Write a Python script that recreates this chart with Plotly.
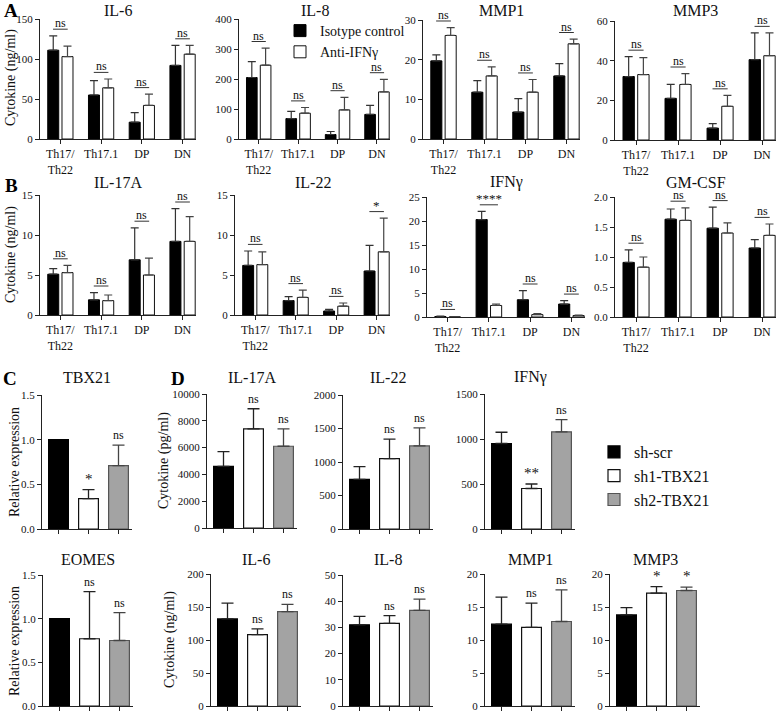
import plotly.graph_objects as go

W, H = 778, 714

# ---------------- data ----------------
groups = ["Th17/Th22", "Th17.1", "DP", "DN"]
group_labels = ["Th17/<br>Th22", "Th17.1", "DP", "DN"]
shrna = ["sh-scr", "sh1-TBX21", "sh2-TBX21"]

# Panel A (ng/ml): Isotype control vs Anti-IFNγ
a_il6_iso = [111, 55, 21, 92]
a_il6_iso_err = [18, 18, 12, 25]
a_il6_anti = [103, 64, 42, 106]
a_il6_anti_err = [13, 11, 14, 11]
a_il6_sig = ["ns", "ns", "ns", "ns"]

a_il8_iso = [205, 68, 15, 82]
a_il8_iso_err = [53, 24, 10, 30]
a_il8_anti = [246, 86, 97, 157]
a_il8_anti_err = [57, 19, 42, 42]
a_il8_sig = ["ns", "ns", "ns", "ns"]

a_mmp1_iso = [19.7, 11.8, 6.8, 15.9]
a_mmp1_iso_err = [1.5, 2.9, 3.4, 3.1]
a_mmp1_anti = [26.1, 15.9, 11.8, 24.0]
a_mmp1_anti_err = [2.0, 2.3, 3.2, 1.2]
a_mmp1_sig = ["ns", "ns", "ns", "ns"]

a_mmp3_iso = [32, 21, 6, 40.5]
a_mmp3_iso_err = [10, 7, 2.3, 13.5]
a_mmp3_anti = [33, 28, 17, 42.5]
a_mmp3_anti_err = [8.5, 5.5, 5.5, 11.5]
a_mmp3_sig = ["ns", "ns", "ns", "ns"]

# Panel B (ng/ml)
b_il17a_iso = [5.1, 1.9, 6.9, 9.2]
b_il17a_iso_err = [0.7, 0.9, 4.0, 4.1]
b_il17a_anti = [5.3, 1.8, 5.0, 9.2]
b_il17a_anti_err = [0.9, 0.7, 2.1, 3.1]
b_il17a_sig = ["ns", "ns", "ns", "ns"]

b_il22_iso = [6.2, 1.8, 0.5, 5.5]
b_il22_iso_err = [1.8, 0.5, 0.2, 3.2]
b_il22_anti = [6.3, 2.2, 1.1, 7.9]
b_il22_anti_err = [1.6, 0.9, 0.4, 4.2]
b_il22_sig = ["ns", "ns", "ns", "*"]

b_ifng_iso = [0.1, 20.3, 3.6, 2.7]
b_ifng_iso_err = [0.1, 1.7, 1.9, 0.7]
b_ifng_anti = [0.02, 2.4, 0.5, 0.3]
b_ifng_anti_err = [0.03, 0.3, 0.2, 0.1]
b_ifng_sig = ["ns", "****", "ns", "ns"]

b_gmcsf_iso = [0.91, 1.63, 1.48, 1.15]
b_gmcsf_iso_err = [0.21, 0.17, 0.35, 0.14]
b_gmcsf_anti = [0.83, 1.61, 1.40, 1.36]
b_gmcsf_anti_err = [0.17, 0.21, 0.17, 0.19]
b_gmcsf_sig = ["ns", "ns", "ns", "ns"]

# Panel C (relative expression)
c_tbx21 = [1.0, 0.34, 0.71]
c_tbx21_err = [0, 0.10, 0.23]
c_tbx21_sig = ["", "*", "ns"]
c_eomes = [1.0, 0.77, 0.75]
c_eomes_err = [0, 0.54, 0.32]
c_eomes_sig = ["", "ns", "ns"]

# Panel D
d_il17a = [4600, 7400, 6100]
d_il17a_err = [1100, 1500, 1300]
d_il17a_sig = ["", "ns", "ns"]
d_il22 = [740, 1050, 1240]
d_il22_err = [190, 290, 270]
d_il22_sig = ["", "ns", "ns"]
d_ifng = [950, 450, 1080]
d_ifng_err = [125, 50, 135]
d_ifng_sig = ["", "**", "ns"]
d_il6 = [132, 108, 143]
d_il6_err = [24, 9, 11]
d_il6_sig = ["", "ns", "ns"]
d_il8 = [31, 31.5, 36.5]
d_il8_err = [3.2, 3.0, 4.3]
d_il8_sig = ["", "ns", "ns"]
d_mmp1 = [12.4, 11.9, 12.8]
d_mmp1_err = [4.1, 3.7, 4.8]
d_mmp1_sig = ["", "ns", "ns"]
d_mmp3 = [13.8, 17.1, 17.5]
d_mmp3_err = [1.1, 1.0, 0.5]
d_mmp3_sig = ["", "*", "*"]

# ---------------- styling / layout ----------------
FONT = "Times New Roman, Liberation Serif, DejaVu Serif, serif"
AX = "#222222"


def px_x(x):
    return x / W


def px_y(y):
    return 1 - y / H


fig = go.Figure()
layout = dict(
    width=W, height=H, margin=dict(l=0, r=0, t=0, b=0, pad=0, autoexpand=False),
    paper_bgcolor="white", plot_bgcolor="white",
    barmode="overlay", font=dict(family=FONT, color="#111"),
    showlegend=True,
)
annotations = []
shapes = []

ab_panels = [
    ("IL-6", a_il6_iso, a_il6_iso_err, a_il6_anti, a_il6_anti_err, a_il6_sig, 150, 50, (40, 196, 19, 139), None),
    ("IL-8", a_il8_iso, a_il8_iso_err, a_il8_anti, a_il8_anti_err, a_il8_sig, 400, 100, (239, 390, 19, 139), None),
    ("MMP1", a_mmp1_iso, a_mmp1_iso_err, a_mmp1_anti, a_mmp1_anti_err, a_mmp1_sig, 30, 10, (423, 580, 20, 139), None),
    ("MMP3", a_mmp3_iso, a_mmp3_iso_err, a_mmp3_anti, a_mmp3_anti_err, a_mmp3_sig, 60, 20, (615, 776, 21, 140), None),
    ("IL-17A", b_il17a_iso, b_il17a_iso_err, b_il17a_anti, b_il17a_anti_err, b_il17a_sig, 15, 5, (40, 196, 195, 315), None),
    ("IL-22", b_il22_iso, b_il22_iso_err, b_il22_anti, b_il22_anti_err, b_il22_sig, 15, 5, (235, 390, 195, 315), None),
    ("IFNγ", b_ifng_iso, b_ifng_iso_err, b_ifng_anti, b_ifng_anti_err, b_ifng_sig, 25, 5, (427, 585, 197, 317), None),
    ("GM-CSF", b_gmcsf_iso, b_gmcsf_iso_err, b_gmcsf_anti, b_gmcsf_anti_err, b_gmcsf_sig, 2.0, 0.5, (615, 776, 197, 317), ".1f"),
]

cd_panels = [
    ("TBX21", c_tbx21, c_tbx21_err, c_tbx21_sig, 1.5, 0.5, (42, 132, 395, 529), ".1f"),
    ("IL-17A", d_il17a, d_il17a_err, d_il17a_sig, 10000, 2000, (207, 297, 394, 528), "d"),
    ("IL-22", d_il22, d_il22_err, d_il22_sig, 2000, 500, (343, 433, 395, 529), "d"),
    ("IFNγ", d_ifng, d_ifng_err, d_ifng_sig, 1500, 500, (485, 575, 394, 529), "d"),
    ("EOMES", c_eomes, c_eomes_err, c_eomes_sig, 1.5, 0.5, (43, 133, 575, 706), ".1f"),
    ("IL-6", d_il6, d_il6_err, d_il6_sig, 200, 50, (211, 301, 574, 706), "d"),
    ("IL-8", d_il8, d_il8_err, d_il8_sig, 50, 10, (343, 433, 575, 706), "d"),
    ("MMP1", d_mmp1, d_mmp1_err, d_mmp1_sig, 20, 5, (485, 575, 574, 706), "d"),
    ("MMP3", d_mmp3, d_mmp3_err, d_mmp3_sig, 20, 5, (610, 700, 574, 706), "d"),
]


def add_axes(n, box, xr, ymax, dtick, tickformat, ticktext=None, tickvals=None):
    x0, x1, y0, y1 = box
    xa = dict(domain=[px_x(x0), px_x(x1)], range=xr, anchor="y%d" % n,
              showline=True, linecolor=AX, linewidth=1, ticks="outside",
              ticklen=4, tickcolor=AX, showgrid=False, zeroline=False,
              tickvals=tickvals, fixedrange=True, automargin=False)
    if ticktext is not None:
        xa.update(ticktext=ticktext, showticklabels=True,
                  tickfont=dict(family=FONT, size=12, color="#111"))
    else:
        xa.update(showticklabels=False)
    ya = dict(domain=[px_y(y1), px_y(y0)], range=[0, ymax], anchor="x%d" % n,
              showline=True, linecolor=AX, linewidth=1, ticks="outside",
              ticklen=4, tickcolor=AX, showgrid=False, zeroline=False,
              dtick=dtick, tick0=0, tickfont=dict(family=FONT, size=11, color="#111"),
              fixedrange=True, automargin=False, ticklabeloverflow="allow")
    if tickformat:
        ya["tickformat"] = tickformat
    layout["xaxis%d" % n if n > 1 else "xaxis"] = xa
    layout["yaxis%d" % n if n > 1 else "yaxis"] = ya


def title_ann(text, box, y_center, size=16):
    x0, x1, _, _ = box
    annotations.append(dict(text=text, x=px_x((x0 + x1) / 2), y=px_y(y_center),
                            xref="paper", yref="paper", showarrow=False,
                            font=dict(family=FONT, size=size, color="#111"),
                            xanchor="center", yanchor="middle"))


n = 0
bw = 0.27
for i, (name, iso, iso_e, anti, anti_e, sig, ymax, dtick, box, tf) in enumerate(ab_panels):
    n += 1
    xs = list(range(len(groups)))
    xr = [-0.5, 3.33]
    add_axes(n, box, xr, ymax, dtick, tf, ticktext=group_labels, tickvals=xs)
    xref, yref = "x%d" % n, "y%d" % n
    fig.add_trace(go.Bar(
        x=xs, y=iso, offset=-0.31, width=bw, name="Isotype control",
        marker=dict(color="#000000", line=dict(color="#000000", width=1)),
        error_y=dict(type="data", symmetric=False, array=iso_e, arrayminus=[0] * 4,
                     color="#333333", thickness=1.2, width=4),
        xaxis=xref, yaxis=yref, showlegend=(i == 0), legend="legend"))
    fig.add_trace(go.Bar(
        x=xs, y=anti, offset=0.04, width=bw, name="Anti-IFNγ",
        marker=dict(color="#ffffff", line=dict(color="#111111", width=1)),
        error_y=dict(type="data", symmetric=False, array=anti_e, arrayminus=[0] * 4,
                     color="#444444", thickness=1.2, width=4),
        xaxis=xref, yaxis=yref, showlegend=(i == 0), legend="legend"))
    for k, s in enumerate(sig):
        top = max(iso[k] + iso_e[k], anti[k] + anti_e[k])
        ly = top + 0.055 * ymax
        half = 0.22 if s == "****" else 0.18
        shapes.append(dict(type="line", xref=xref, yref=yref, x0=k - half, x1=k + half,
                           y0=ly, y1=ly, line=dict(color="#333", width=1)))
        annotations.append(dict(text=s, x=k, y=ly, xref=xref, yref=yref, showarrow=False,
                                yanchor="bottom", yshift=-3,
                                font=dict(family=FONT, size=12 if s == "ns" else 13, color="#111")))
    yc = 11 if box[2] < 100 else 182
    title_ann(name, box, yc)

colors = ["#000000", "#ffffff", "#a3a3a3"]
lines = ["#000000", "#111111", "#555555"]
for j, (name, vals, errs, sig, ymax, dtick, box, tf) in enumerate(cd_panels):
    n += 1
    add_axes(n, box, [-0.55, 2.45], ymax, dtick, tf, tickvals=[0, 1, 2])
    xref, yref = "x%d" % n, "y%d" % n
    for k in range(3):
        fig.add_trace(go.Bar(
            x=[k], y=[vals[k]], width=0.66, name=shrna[k],
            marker=dict(color=colors[k], line=dict(color=lines[k], width=1.2)),
            error_y=dict(type="data", symmetric=False, array=[errs[k]], arrayminus=[0],
                         color="#222222" if k < 2 else "#444444", thickness=1.3, width=6,
                         visible=errs[k] > 0),
            xaxis=xref, yaxis=yref, showlegend=(j == 0), legend="legend2"))
        if sig[k]:
            annotations.append(dict(text=sig[k], x=k, y=vals[k] + errs[k], xref=xref, yref=yref,
                                    showarrow=False, yanchor="bottom", yshift=1,
                                    font=dict(family=FONT, size=12 if sig[k] == "ns" else 15, color="#111")))
    yc = 377 if box[2] < 560 else 559
    title_ann(name, box, yc)

# panel letters
for letter, x, y in [("A", 11, 11), ("B", 11, 186), ("C", 10, 378), ("D", 178, 378)]:
    annotations.append(dict(text="<b>%s</b>" % letter, x=px_x(x), y=px_y(y), xref="paper", yref="paper",
                            showarrow=False, xanchor="center", yanchor="middle",
                            font=dict(family=FONT, size=19, color="#000")))

# y-axis titles
for text, x, y in [("Cytokine (ng/ml)", 11, 78), ("Cytokine (ng/ml)", 11, 255),
                   ("Relative expression", 14, 462), ("Cytokine (pg/ml)", 164, 461),
                   ("Relative expression", 14, 641), ("Cytokine (ng/ml)", 170, 640)]:
    annotations.append(dict(text=text, x=px_x(x), y=px_y(y), xref="paper", yref="paper",
                            showarrow=False, textangle=-90, xanchor="center", yanchor="middle",
                            font=dict(family=FONT, size=14, color="#111")))

layout["legend"] = dict(x=px_x(280), y=px_y(15), xanchor="left", yanchor="top",
                        bgcolor="rgba(0,0,0,0)", font=dict(family=FONT, size=14, color="#111"),
                        tracegroupgap=0, itemwidth=30)
layout["legend2"] = dict(x=px_x(594), y=px_y(435), xanchor="left", yanchor="top",
                         bgcolor="rgba(0,0,0,0)", font=dict(family=FONT, size=16, color="#111"),
                         tracegroupgap=0, itemwidth=30)
layout["annotations"] = annotations
layout["shapes"] = shapes
fig.update_layout(**layout)
fig.write_html("out.html", config={"displayModeBar": False},
               post_script="document.body.style.margin='0';document.body.style.padding='0';")
